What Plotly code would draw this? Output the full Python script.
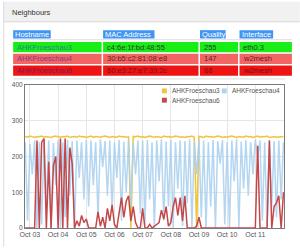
import plotly.graph_objects as go
import pandas as pd

# ---------------- data ----------------
columns = ["Hostname", "MAC Address", "Quality", "Interface"]
hostnames = ["AHKFroeschau3", "AHKFroeschau4", "AHKFroeschau6"]
macs = ["c4:6e:1f:bd:48:55", "30:b5:c2:81:08:e8", "60:e3:27:e7:39:2c"]
quality = [255, 147, 68]
interfaces = ["eth0.3", "w2mesh", "w2mesh"]

start_time = "2016-10-02 20:00"
n_points = 111
tick_dates = ["2016-10-03", "2016-10-04", "2016-10-05", "2016-10-06", "2016-10-07",
              "2016-10-08", "2016-10-09", "2016-10-10", "2016-10-11"]
tick_labels = ["Oct 03", "Oct 04", "Oct 05", "Oct 06", "Oct 07",
               "Oct 08", "Oct 09", "Oct 10", "Oct 11"]
y_ticks = [0, 100, 200, 300, 400]

froeschau3 = [256, 254, 257, 255, 253, 256, 255, 257, 254, 256,
              255, 253, 256, 257, 255, 254, 256, 255, 257, 253,
              255, 256, 254, 257, 255, 256, 253, 255, 257, 254,
              256, 255, 254, 256, 257, 255, 253, 256, 255, 254,
              257, 255, 256, 254, 255, 0, 256, 255, 257, 254,
              256, 253, 255, 257, 255, 254, 256, 255, 253, 257,
              255, 256, 254, 255, 257, 256, 254, 255, 253, 256,
              255, 257, 254, 0, 256, 255, 253, 257, 255, 256,
              254, 255, 257, 256, 253, 255, 254, 256, 257, 255,
              253, 256, 255, 254, 257, 255, 256, 253, 255, 257,
              254, 256, 255, 257, 253, 255, 256, 254, 255, 257,
              256]

froeschau4 = [240, 20, 235, 150, 245, 0,
              240, 10, 248, 60, 245, 0, 238, 120, 246, 0, 240, 30, 247, 90, 243,
              0, 245, 140, 240, 80, 246,
              60, 245, 120, 240, 30, 248, 170, 243, 90, 245, 45, 240, 140, 246, 20, 242,
              100, 247, 60, 238, 150, 245, 40, 244,
              10, 246, 80, 240, 0, 245, 130, 248, 20, 242, 60, 247, 0, 240, 110, 245, 5,
              243, 70, 248, 0, 241, 150, 246, 30,
              245, 0, 240, 60, 247, 0, 243, 180, 246, 10, 240, 0, 245, 130, 248, 0, 242,
              110, 246, 90, 240, 150, 247,
              200, 245, 20, 240, 0, 246, 60, 243, 30, 245, 80, 240]

froeschau6 = [0, 0, 0, 0, 0,
              245, 0, 240, 250, 0, 185, 0, 175, 200, 0, 250, 0, 250, 0, 225, 180, 0,
              20, 5, 35, 15, 25, 0,
              0, 0, 0,
              45, 5, 30, 0, 55, 20, 65, 10, 0, 40, 85, 30, 75, 90, 20, 60, 15, 0, 0, 55,
              0, 0, 10, 0, 5, 10, 15, 50, 25, 60, 5, 15, 60, 85, 35, 85, 20, 90, 0, 0,
              0, 0, 5, 30,
              0, 0, 0, 0, 0, 0, 0, 0, 0, 0, 0, 0, 0, 0, 0, 0, 0, 0, 0, 0, 0, 0, 0, 0,
              230, 0, 0, 0, 0, 245, 0, 60, 70, 90, 0, 100]

times = pd.date_range(start_time, periods=n_points, freq="2h")

C3, C4, C6 = "#f0c33c", "#acd2f0", "#c4484a"

# ---------------- figure ----------------
W, H = 300, 250
ML, MR, MT, MB = 22, 16, 85, 19
PW, PH = W - ML - MR, H - MT - MB


def X(px):
    return (px - ML) / PW


def Y(py):
    return (H - MB - py) / PH


fig = go.Figure()
fig.add_trace(go.Scatter(x=times, y=froeschau3, mode="lines", name="AHKFroeschau3",
                         line=dict(color=C3, width=1.5), showlegend=False))
fig.add_trace(go.Scatter(x=times, y=froeschau4, mode="lines", name="AHKFroeschau4",
                         line=dict(color=C4, width=1.5), opacity=0.9, showlegend=False))
fig.add_trace(go.Scatter(x=times, y=froeschau6, mode="lines", name="AHKFroeschau6",
                         line=dict(color=C6, width=1.5), showlegend=False))

shapes = []
ann = []
FONT = "Liberation Sans, Arial, sans-serif"

# panel header
shapes.append(dict(type="rect", xref="paper", yref="paper", x0=X(0), x1=X(300), y0=Y(0), y1=Y(20.5),
                   fillcolor="#f1f1f1", line=dict(width=0), layer="below"))
shapes.append(dict(type="line", xref="paper", yref="paper", x0=X(0), x1=X(300), y0=Y(20.5), y1=Y(20.5),
                   line=dict(color="#d6d6d6", width=1)))
shapes.append(dict(type="line", xref="paper", yref="paper", x0=X(0.5), x1=X(0.5), y0=Y(0), y1=Y(250),
                   line=dict(color="#dcdcdc", width=1)))
ann.append(dict(text="Neighbours", x=X(7), y=Y(10.5), xref="paper", yref="paper", xanchor="left",
                yanchor="middle", showarrow=False, font=dict(family=FONT, size=7.5, color="#333333")))

# table header (highlighted text)
col_x = [10, 101, 199, 239]
col_hl_end = [48, 153, 225, 273]
col_end = [99.5, 197.5, 237.5, 292]
for i, c in enumerate(columns):
    shapes.append(dict(type="rect", xref="paper", yref="paper", x0=X(col_x[i]), x1=X(col_hl_end[i]),
                       y0=Y(29), y1=Y(37.5), fillcolor="#3f95f2", line=dict(width=0)))
    ann.append(dict(text=c, x=X(col_x[i] + 0.3), y=Y(33.3), xref="paper", yref="paper", xanchor="left",
                    yanchor="middle", showarrow=False, font=dict(family=FONT, size=7.5, color="#ffffff")))
shapes.append(dict(type="line", xref="paper", yref="paper", x0=X(10), x1=X(292), y0=Y(38.8), y1=Y(38.8),
                   line=dict(color="#dddddd", width=1)))

row_top = [41, 53, 65]
row_bot = [51.5, 63.5, 75.5]
row_fill = ["#16ee16", "#f36464", "#ef1414"]
host_col = ["#2b7f96", "#7d3c8c", "#7e1a5a"]
text_col = ["#333333", "#5a2222", "#7a1010"]
for r in range(3):
    vals = [hostnames[r], macs[r], str(quality[r]), interfaces[r]]
    for i in range(4):
        shapes.append(dict(type="rect", xref="paper", yref="paper", x0=X(col_x[i]), x1=X(col_end[i]),
                           y0=Y(row_top[r]), y1=Y(row_bot[r]), fillcolor=row_fill[r], line=dict(width=0)))
        ann.append(dict(text=vals[i], x=X(col_x[i] + 1.8), y=Y((row_top[r] + row_bot[r]) / 2 + 0.2),
                        xref="paper", yref="paper", xanchor="left", yanchor="middle", showarrow=False,
                        font=dict(family=FONT, size=7.5, color=host_col[r] if i == 0 else text_col[r])))
shapes.append(dict(type="line", xref="paper", yref="paper", x0=X(10), x1=X(285), y0=Y(78.8), y1=Y(78.8),
                   line=dict(color="#dddddd", width=1)))

# legend (drawn by hand to match the compact layout)
leg_names = ["AHKFroeschau3", "AHKFroeschau4", "AHKFroeschau6"]
leg_cols = [C3, C4, C6]
leg_px = [160.5, 221, 160.5]
leg_py = [91, 91, 100.5]
for i in range(3):
    shapes.append(dict(type="rect", xref="paper", yref="paper", x0=X(leg_px[i]), x1=X(leg_px[i] + 5),
                       y0=Y(leg_py[i] - 2.5), y1=Y(leg_py[i] + 2.5), fillcolor=leg_cols[i], line=dict(width=0)))
    ann.append(dict(text=leg_names[i], x=X(leg_px[i] + 8.5), y=Y(leg_py[i]), xref="paper", yref="paper",
                    xanchor="left", yanchor="middle", showarrow=False,
                    font=dict(family=FONT, size=6.5, color="#555555")))

fig.update_layout(
    width=W, height=H,
    margin=dict(l=ML, r=MR, t=MT, b=MB, pad=0),
    paper_bgcolor="white", plot_bgcolor="white",
    shapes=shapes, annotations=ann, showlegend=False,
    xaxis=dict(type="date", range=["2016-10-02 19:48", "2016-10-12 00:26"],
               tickvals=tick_dates, ticktext=tick_labels, ticks="",
               showgrid=True, gridcolor="#e6e6e6", gridwidth=1,
               showline=True, mirror=True, linecolor="#7a7a7a", linewidth=1,
               zeroline=False, tickfont=dict(family=FONT, size=7, color="#555555")),
    yaxis=dict(range=[0, 400], tickvals=y_ticks, ticks="",
               showgrid=True, gridcolor="#e6e6e6", gridwidth=1,
               showline=True, mirror=True, linecolor="#7a7a7a", linewidth=1,
               zeroline=False, tickfont=dict(family=FONT, size=6.5, color="#555555")),
)

fig.write_html("out.html")
